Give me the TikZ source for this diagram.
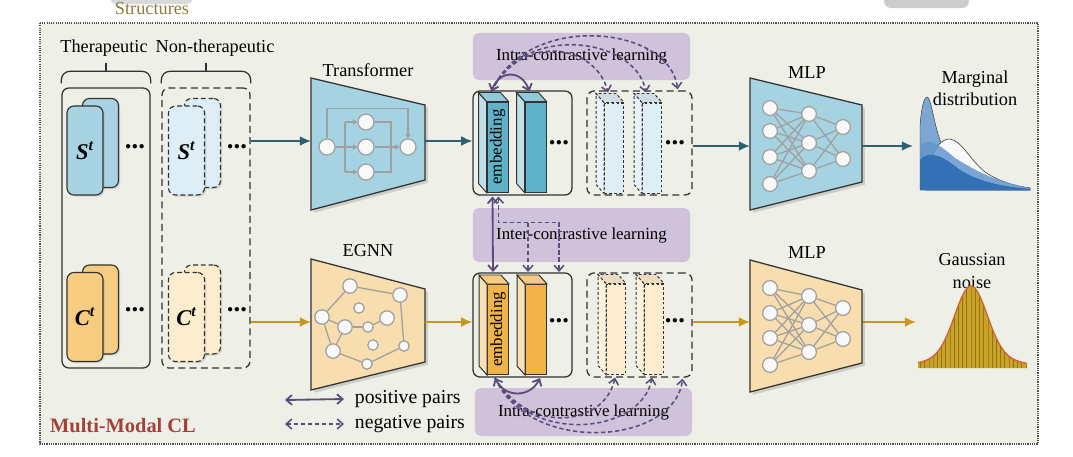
\documentclass[tikz,border=0pt]{standalone}
\usepackage{fontspec}
\setmainfont{Liberation Serif}
\usepackage{xcolor}
\usepackage{tikz}
\definecolor{mmclbg}{RGB}{238,240,231}
\definecolor{mmclframe}{RGB}{80,80,80}
\definecolor{mmclline}{RGB}{50,50,50}
\definecolor{mmclblue}{RGB}{168,211,226}
\definecolor{mmclbluelt}{RGB}{222,238,246}
\definecolor{mmclorange}{RGB}{246,204,128}
\definecolor{mmclorangelt}{RGB}{253,237,206}
\definecolor{mmcltrapblue}{RGB}{166,211,225}
\definecolor{mmcltraporange}{RGB}{248,222,174}
\definecolor{mmclbarblue}{RGB}{96,178,200}
\definecolor{mmclbarorange}{RGB}{241,180,72}
\definecolor{mmclpurple}{RGB}{208,194,219}
\definecolor{mmclarrow}{RGB}{92,75,125}
\definecolor{mmclteal}{RGB}{45,97,112}
\definecolor{mmclgold}{RGB}{200,152,28}
\definecolor{mmclgray}{RGB}{160,160,160}
\definecolor{mmclred}{RGB}{164,64,58}
\definecolor{mmclolive}{RGB}{139,125,60}
\definecolor{mmcldista}{RGB}{126,166,210}
\definecolor{mmcldistb}{RGB}{100,150,205}
\definecolor{mmcldistc}{RGB}{52,112,182}
\definecolor{mmclmustard}{RGB}{201,162,39}
\definecolor{mmclstripe}{RGB}{140,115,20}
\definecolor{mmclrim}{RGB}{210,96,58}
\usetikzlibrary{arrows.meta,positioning,shapes.geometric,calc,shadows,patterns}

\begin{document}
\begin{tikzpicture}[x=0.025cm, y=-0.025cm, font=\fontsize{13}{15}\selectfont]
    \tikzstyle{setbox} = [rectangle, rounded corners=5pt, draw=mmclline, line width=0.9pt,
                          minimum width=2.2cm, minimum height=7cm]
    \tikzstyle{setboxneg} = [setbox, dash pattern=on 5pt off 3pt]
    \tikzstyle{setbrace} = [draw=mmclline, line width=0.9pt, rounded corners=6pt]
    \tikzstyle{card} = [rectangle, rounded corners=5pt, draw=mmclline, line width=0.8pt, inner sep=0pt,
                        minimum width=0.9cm, minimum height=2.225cm, font=\fontsize{16}{18}\selectfont\bfseries\itshape,
                        drop shadow={opacity=0.25, shadow xshift=1.2pt, shadow yshift=-1.2pt}]
    \tikzstyle{cardneg} = [card, dash pattern=on 3.5pt off 2pt]
    \tikzstyle{ellip} = [font=\fontsize{19}{19}\selectfont\bfseries, inner sep=0pt]
    \tikzstyle{enc} = [draw=mmclline, line width=0.9pt,
                       drop shadow={opacity=0.3, shadow xshift=2pt, shadow yshift=-2pt}]
    \tikzstyle{unit} = [circle, fill=gray!5, draw=mmclgray, line width=0.9pt, minimum size=0.37cm, inner sep=0pt]
    \tikzstyle{gbig} = [unit, minimum size=0.36cm]
    \tikzstyle{gsmall} = [unit, minimum size=0.26cm]
    \tikzstyle{link} = [mmclgray, line width=0.9pt]
    \tikzstyle{tfline} = [mmclgray, line width=0.9pt, -{Triangle[length=3pt,width=3.5pt]}]
    \tikzstyle{embbox} = [rectangle, rounded corners=5pt, draw=mmclline, line width=0.9pt,
                          minimum width=2.475cm, minimum height=2.6cm]
    \tikzstyle{embboxneg} = [embbox, dash pattern=on 5pt off 3pt, minimum width=2.625cm]
    \tikzstyle{bar} = [rectangle, draw=mmclline, line width=0.7pt, inner sep=0pt,
                       minimum width=0.525cm, minimum height=2.25cm, font=\fontsize{12}{12}\selectfont]
    \tikzstyle{barneg} = [bar, dash pattern=on 2pt off 1.5pt, minimum width=0.475cm]
    \tikzstyle{clbox} = [rectangle, rounded corners=4pt, fill=mmclpurple, minimum width=5.425cm,
                         font=\fontsize{12}{14}\selectfont]
    \tikzstyle{posarrow} = [line width=1.3pt, mmclarrow, {Straight Barb[length=4pt,width=7pt]}-{Straight Barb[length=4pt,width=7pt]}]
    \tikzstyle{negarrow} = [line width=1.1pt, mmclarrow, dash pattern=on 3pt off 2pt]
    \tikzstyle{neghead} = [-{Straight Barb[length=4pt,width=7pt]}]
    \tikzstyle{flow} = [-{Latex[length=8pt,width=7pt]}, line width=1.1pt]

    % Canvas and frame
    \fill[white] (0,0) rectangle (1073,456);
    \useasboundingbox (0,0) rectangle (1073,456);
    \fill[gray!30, rounded corners=4pt] (110,-8) rectangle (193,4);
    \fill[gray!40, rounded corners=5pt] (884,-8) rectangle (969,8);
    \node[text=mmclolive] (structlbl) at (152,9) {Structures};
    \draw[mmclframe, line width=0.8pt, dash pattern=on 0.8pt off 0.8pt, fill=mmclbg] (40,23) rectangle (1038,444);

    % Input sets
    \node (lblther) at (104,48) {Therapeutic};
    \node (lblnon) at (215,48) {Non-therapeutic};
    \node[setbox] (therbox) at (106,228) {};
    \node[setboxneg] (nonbox) at (206,228) {};
    \draw[setbrace] ([yshift=0.1cm]therbox.north west) -- ++(0,-12) -| ([yshift=0.1cm]therbox.north east);
    \draw[setbrace] ([yshift=0.4cm]therbox.north) -- ++(0,-8);
    \draw[setbrace] ([yshift=0.1cm]nonbox.north west) -- ++(0,-12) -| ([yshift=0.1cm]nonbox.north east);
    \draw[setbrace] ([yshift=0.4cm]nonbox.north) -- ++(0,-8);

    \node[card, fill=mmclblue] (sback) at (100.5,143) {};
    \node[card, fill=mmclblue] (sfront) at (85,150.5) {S\textsuperscript{t}};
    \node[cardneg, fill=mmclbluelt] (snback) at (202.5,143) {};
    \node[cardneg, fill=mmclbluelt] (snfront) at (186.5,150.5) {S\textsuperscript{t}};
    \node[card, fill=mmclorange] (cback) at (100.5,309.5) {};
    \node[card, fill=mmclorange] (cfront) at (85,317) {C\textsuperscript{t}};
    \node[cardneg, fill=mmclorangelt] (cnback) at (202.5,309.5) {};
    \node[cardneg, fill=mmclorangelt] (cnfront) at (186.5,317) {C\textsuperscript{t}};
    \node[ellip] (setdots1) at (135,147) {...};
    \node[ellip] (setdots2) at (237,147) {...};
    \node[ellip] (setdots3) at (135,310) {...};
    \node[ellip] (setdots4) at (237,310) {...};

    % Encoders
    \filldraw[enc, fill=mmcltrapblue] (311,78) -- (425,105) -- (425,180) -- (311,210) -- cycle;
    \filldraw[enc, fill=mmcltraporange] (311,259) -- (425,289) -- (425,362) -- (311,390) -- cycle;
    \coordinate (tf-in) at (311,141);
    \coordinate (tf-out) at (425,141);
    \coordinate (eg-in) at (311,322);
    \coordinate (eg-out) at (425,322);
    \node (tflbl) at (368,70) {Transformer};
    \node (eglbl) at (368,251) {EGNN};

    \node[unit, minimum size=0.4cm] (tfa) at (327,147) {};
    \node[unit, minimum size=0.4cm] (tfb) at (366,122) {};
    \node[unit, minimum size=0.4cm] (tfc) at (366,147) {};
    \node[unit, minimum size=0.4cm] (tfd) at (366,172) {};
    \node[unit, minimum size=0.4cm] (tfe) at (408,147) {};
    \coordinate (tfsplit) at (345,147);
    \coordinate (tfmerge) at (391,147);
    \draw[tfline] (tfa) -- (tfc);
    \draw[link] (tfsplit |- tfb) -- (tfsplit |- tfd);
    \draw[tfline] (tfsplit |- tfb) -- (tfb);
    \draw[tfline] (tfsplit |- tfd) -- (tfd);
    \draw[link] (tfb) -| (tfmerge) |- (tfd);
    \draw[tfline] (tfc) -- (tfe);
    \draw[tfline] (tfa.north) -- ++(0,-30) -| (tfe.north);

    \node[gbig] (g1) at (350,286) {};
    \node[gbig] (g2) at (400,295) {};
    \node[gsmall] (g3) at (359,308) {};
    \node[gbig] (g4) at (322,317) {};
    \node[gbig] (g5) at (345,327) {};
    \node[gbig] (g6) at (387,318) {};
    \node[gsmall] (g7) at (368,327) {};
    \node[gsmall] (g8) at (373,345) {};
    \node[gbig] (g9) at (333,351) {};
    \node[gsmall] (g10) at (404,346) {};
    \node[gsmall] (g11) at (367,364) {};
    \foreach \a/\b in {g1/g2, g1/g4, g4/g9, g9/g11, g11/g10, g10/g2, g4/g5, g5/g7, g7/g6, g5/g9}
        \draw[link] (\a) -- (\b);

    % Contrastive boxes
    \node[clbox, minimum height=1.175cm] (intratop) at (581.5,56.5) {Intra-contrastive learning};
    \node[clbox, minimum height=1.35cm] (inter) at (581.5,235) {Inter-contrastive learning};
    \node[clbox, minimum height=1.2cm] (intrabot) at (583.5,412) {Intra-contrastive learning};

    % Embeddings
    \node[embbox] (embtop) at (522.5,143) {};
    \node[embboxneg] (embtopneg) at (639.5,143) {};
    \node[embbox] (embbot) at (522.5,325) {};
    \node[embboxneg] (embbotneg) at (639.5,325) {};

    \node[bar, fill=mmclbarblue] (b1) at (497.5,147) {\rotatebox{90}{embedding}};
    \node[bar, fill=mmclbarblue] (b2) at (535.5,147) {};
    \node[barneg, fill=mmclbluelt] (n1) at (614,148) {};
    \node[barneg, fill=mmclbluelt] (n2) at (652,148) {};
    \node[bar, fill=mmclbarorange] (c1) at (498,329.5) {\rotatebox{90}{embedding}};
    \node[bar, fill=mmclbarorange] (c2) at (536,329.5) {};
    \node[barneg, fill=mmclorangelt] (m1) at (616,329) {};
    \node[barneg, fill=mmclorangelt] (m2) at (654,329) {};
    \foreach \b/\c in {b1/mmclbarblue, b2/mmclbarblue, c1/mmclbarorange, c2/mmclbarorange} {
        \draw[mmclline, line width=0.7pt, fill=\c!40!white] (\b.north west) -- ++(-8,-9)
            -- ($(\b.south west)+(-8,-9)$) -- (\b.south west) -- cycle;
        \draw[mmclline, line width=0.7pt, fill=\c!70!white] (\b.north west) -- ++(-8,-9)
            -- ($(\b.north east)+(-8,-9)$) -- (\b.north east) -- cycle;
    }
    \foreach \b/\c in {n1/mmclbluelt, n2/mmclbluelt, m1/mmclorangelt, m2/mmclorangelt} {
        \draw[mmclline, line width=0.7pt, dash pattern=on 2pt off 1.5pt, fill=\c!70!white] (\b.north west) -- ++(-8,-9)
            -- ($(\b.south west)+(-8,-9)$) -- (\b.south west) -- cycle;
        \draw[mmclline, line width=0.7pt, dash pattern=on 2pt off 1.5pt, fill=\c!85!gray] (\b.north west) -- ++(-8,-9)
            -- ($(\b.north east)+(-8,-9)$) -- (\b.north east) -- cycle;
    }
    \node[ellip] (embdots1) at (559,143) {...};
    \node[ellip] (embdots2) at (675,143) {...};
    \node[ellip] (embdots3) at (559,321) {...};
    \node[ellip] (embdots4) at (675,321) {...};

    % Intra contrastive arrows
    \coordinate (b1t) at ($(b1.north)+(-6,-10)$);
    \coordinate (b2t) at ($(b2.north)+(-6,-10)$);
    \coordinate (n1t) at ($(n1.north)+(-6,-10)$);
    \coordinate (n2t) at ($(n2.north)+(-6,-10)$);
    \coordinate (nxt) at ($(embtopneg.north east)+(-15,-1)$);
    \draw[posarrow] (b1t) .. controls +(8,-22) and +(-8,-22) .. (b2t);
    \draw[negarrow, neghead] (b1t) .. controls +(30,-60) and +(-12,-48) .. (n1t);
    \draw[negarrow, neghead] (b1t) .. controls +(32,-70) and +(-10,-55) .. (n2t);
    \draw[negarrow, neghead] (b1t) .. controls +(34,-80) and +(-8,-65) .. (nxt);

    \coordinate (c1b) at ($(c1.south)+(-3,3)$);
    \coordinate (c2b) at ($(c2.south)+(4,3)$);
    \coordinate (m1b) at ($(m1.south)+(-1,3)$);
    \coordinate (m2b) at ($(m2.south)+(-2,3)$);
    \coordinate (mxb) at ($(embbotneg.south east)+(-10,1)$);
    \draw[posarrow] (c1b) .. controls +(10,20) and +(-10,20) .. (c2b);
    \draw[negarrow, neghead] (c1b) .. controls +(35,58) and +(-10,48) .. (m1b);
    \draw[negarrow, neghead] (c1b) .. controls +(35,68) and +(-10,56) .. (m2b);
    \draw[negarrow, neghead] (c1b) .. controls +(35,78) and +(-8,66) .. (mxb);

    % Inter contrastive arrows
    \coordinate (interhub) at ($(b1.south)+(1,30)$);
    \coordinate (c2t) at ($(c2.north)+(-8,-12)$);
    \draw[posarrow] ($(b1.south)+(-5,4)$) -- ($(c1.north)+(-5,-12)$);
    \draw[negarrow, {Straight Barb[length=4pt,width=7pt]}-{Straight Barb[length=4pt,width=7pt]}]
        ($(b1.south)+(1,4)$) -- (interhub) -- (interhub -| embdots3) -- (embdots3 |- c2t);
    \draw[negarrow, neghead] (interhub -| c2t) -- (c2t);

    % Flow arrows
    \coordinate (mlpa-in) at (750,146);
    \coordinate (mlpa-out) at (862,146);
    \coordinate (mlpb-in) at (750,322);
    \coordinate (mlpb-out) at (862,322);
    \coordinate (margin-in) at (913,146);
    \coordinate (gauss-in) at (916,322);
    \draw[flow, mmclteal] (nonbox.east |- tf-in) -- (tf-in);
    \draw[flow, mmclteal] (tf-out) -- (embtop.west |- tf-out);
    \draw[flow, mmclteal] (embtopneg.east |- mlpa-in) -- (mlpa-in);
    \draw[flow, mmclteal] (mlpa-out) -- (margin-in);
    \draw[flow, mmclgold] (nonbox.east |- eg-in) -- (eg-in);
    \draw[flow, mmclgold] (eg-out) -- (embbot.west |- eg-out);
    \draw[flow, mmclgold] (embbotneg.east |- mlpb-in) -- (mlpb-in);
    \draw[flow, mmclgold] (mlpb-out) -- (gauss-in);

    % MLP heads
    \filldraw[enc, fill=mmcltrapblue] (750,78) -- (862,105) -- (862,182) -- (750,210) -- cycle;
    \filldraw[enc, fill=mmcltraporange] (750,260) -- (862,290) -- (862,363) -- (750,392) -- cycle;
    \node (mlpalbl) at (807,73) {MLP};
    \node (mlpblbl) at (807,253) {MLP};
    \foreach \i/\y in {1/108, 2/131, 3/157, 4/184} \node[unit] (ma\i) at (770,\y) {};
    \foreach \i/\y in {1/114, 2/143, 3/171} \node[unit] (mb\i) at (809,\y) {};
    \foreach \i/\y in {1/127, 2/159} \node[unit] (mc\i) at (843,\y) {};
    \foreach \i/\y in {1/288, 2/313, 3/338, 4/365} \node[unit] (na\i) at (770,\y) {};
    \foreach \i/\y in {1/296, 2/325, 3/352} \node[unit] (nb\i) at (809,\y) {};
    \foreach \i/\y in {1/308, 2/339} \node[unit] (nc\i) at (843,\y) {};
    \foreach \i in {1,...,4} \foreach \j in {1,2,3} {
        \draw[link] (ma\i) -- (mb\j);
        \draw[link] (na\i) -- (nb\j);
    }
    \foreach \i in {1,2,3} \foreach \j in {1,2} {
        \draw[link] (mb\i) -- (mc\j);
        \draw[link] (nb\i) -- (nc\j);
    }

    % Outputs
    \node[align=center, font=\fontsize{13}{16}\selectfont] (marginlbl) at (975,88) {Marginal\\distribution};
    \node[align=center, font=\fontsize{13}{16}\selectfont] (gausslbl) at (972,271) {Gaussian\\noise};
    \fill[mmcldista, draw=mmclline, line width=0.3pt] (920,190) -- (920,125) .. controls (922,102) and (925,97) .. (927,97)
        .. controls (931,97) and (933,120) .. (940,140) .. controls (950,160) and (980,182) .. (1030,188) -- (1030,190) -- cycle;
    \fill[gray!5, draw=mmclline, line width=0.4pt] (926,170) .. controls (935,145) and (942,139) .. (950,139)
        .. controls (962,141) and (970,160) .. (985,172) .. controls (1000,182) and (1015,186) .. (1030,188) -- (1030,190) -- (926,190) -- cycle;
    \fill[mmcldistb, opacity=0.85] (920,190) -- (920,145) .. controls (930,135) and (945,150) .. (955,158)
        .. controls (975,170) and (990,180) .. (1030,188) -- (1030,190) -- cycle;
    \fill[mmcldistc] (920,190) -- (920,160) .. controls (930,148) and (945,158) .. (960,170)
        .. controls (980,182) and (1000,186) .. (1030,189) -- (1030,190) -- cycle;
    \fill[mmclmustard] (918,368) -- plot[domain=918:1027, samples=80, smooth]
        (\x, {368-70*exp(-((\x-971)*(\x-971))/512)-12*exp(-((\x-971)*(\x-971))/3200)}) -- (1027,368) -- cycle;
    \path[pattern=vertical lines, pattern color=mmclstripe] (918,368) -- plot[domain=918:1027, samples=80, smooth]
        (\x, {368-70*exp(-((\x-971)*(\x-971))/512)-12*exp(-((\x-971)*(\x-971))/3200)}) -- (1027,368) -- cycle;
    \draw[mmclrim, line width=0.9pt] plot[domain=918:1027, samples=80, smooth]
        (\x, {368-70*exp(-((\x-971)*(\x-971))/512)-12*exp(-((\x-971)*(\x-971))/3200)});

    % Legend
    \node[anchor=west, font=\fontsize{14}{16}\selectfont] (legpos) at (350,399) {positive pairs};
    \node[anchor=west, font=\fontsize{14}{16}\selectfont] (legneg) at (350,424) {negative pairs};
    \coordinate (legposa) at (285,400);
    \coordinate (legnega) at (285,424);
    \draw[posarrow] (legposa) -- ([xshift=-0.15cm]legpos.west);
    \draw[negarrow, {Straight Barb[length=4pt,width=7pt]}-{Straight Barb[length=4pt,width=7pt]}] (legnega) -- ([xshift=-0.15cm]legneg.west);
    \node[font=\fontsize{14.5}{16}\selectfont\bfseries, text=mmclred] (mmcl) at (123,426) {Multi-Modal CL};
\end{tikzpicture}
\end{document}
